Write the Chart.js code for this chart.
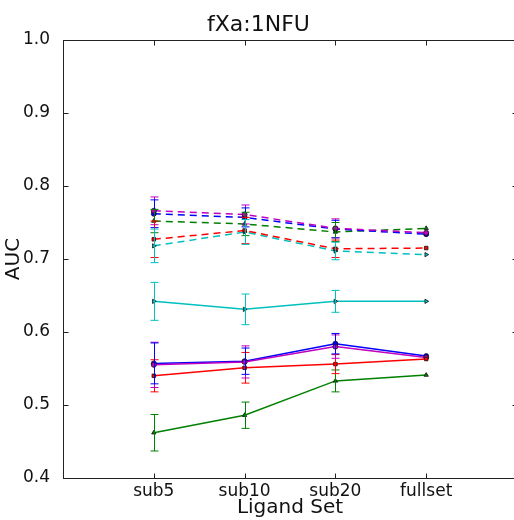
<!DOCTYPE html>
<html>
<head>
<meta charset="utf-8">
<script src="https://cdn.jsdelivr.net/npm/chart.js@4.4.0/dist/chart.umd.min.js"></script>
<style>
  html, body { margin: 0; padding: 0; overflow: hidden; background: #fff; }
  #wrap { width: 580px; height: 520px; }
</style>
</head>
<body>
<div id="wrap"><canvas id="auc-chart" width="580" height="520"></canvas></div>
<script>
const categories = ['sub5', 'sub10', 'sub20', 'fullset'];
const yTickValues = [0.4, 0.5, 0.6, 0.7, 0.8, 0.9, 1.0];

// dashed runs (AUC, +/- error)
const magentaDash = [0.766, 0.761, 0.742, 0.736];
const magentaDashErr = [0.019, 0.013, 0.013, 0];
const blueDash = [0.762, 0.757, 0.741, 0.734];
const blueDashErr = [0.019, 0.013, 0.012, 0];
const greenDash = [0.752, 0.748, 0.737, 0.742];
const greenDashErr = [0.016, 0.016, 0.013, 0];
const redDash = [0.727, 0.739, 0.714, 0.715];
const redDashErr = [0.025, 0.018, 0.012, 0];
const cyanDash = [0.718, 0.737, 0.711, 0.706];
const cyanDashErr = [0.023, 0.017, 0.012, 0];

// solid runs
const cyanSolid = [0.642, 0.631, 0.642, 0.642];
const cyanSolidErr = [0.026, 0.021, 0.015, 0];
const blueSolid = [0.557, 0.560, 0.584, 0.567];
const blueSolidErr = [0.028, 0.018, 0.014, 0];
const magentaSolid = [0.555, 0.559, 0.580, 0.565];
const magentaSolidErr = [0.031, 0.022, 0.016, 0];
const redSolid = [0.540, 0.551, 0.556, 0.563];
const redSolidErr = [0.022, 0.021, 0.013, 0];
const greenSolid = [0.462, 0.486, 0.533, 0.541];
const greenSolidErr = [0.025, 0.018, 0.015, 0];

const FONT = "'DejaVu Sans', sans-serif";

function makeSet(label, values, errors, color, dashed, pointStyle, rotation) {
    return {
        label: label,
        data: values.map((v, i) => ({ x: i, y: v })),
        errors: errors,
        borderColor: color,
        backgroundColor: color,
        borderWidth: 1.5,
        borderDash: dashed ? [7, 5] : [],
        pointStyle: pointStyle,
        pointRotation: rotation || 0,
        pointRadius: 2.5,
        pointBackgroundColor: color,
        pointBorderColor: '#111',
        pointBorderWidth: 0.8,
        tension: 0
    };
}

const datasets = [
    makeSet('m dashed', magentaDash, magentaDashErr, '#bf00bf', true, 'circle'),
    makeSet('b dashed', blueDash, blueDashErr, '#0000ff', true, 'circle'),
    makeSet('g dashed', greenDash, greenDashErr, '#008000', true, 'triangle'),
    makeSet('r dashed', redDash, redDashErr, '#ff0000', true, 'rect'),
    makeSet('c dashed', cyanDash, cyanDashErr, '#00bfbf', true, 'triangle', 90),
    makeSet('c solid', cyanSolid, cyanSolidErr, '#00bfbf', false, 'triangle', 90),
    makeSet('g solid', greenSolid, greenSolidErr, '#008000', false, 'triangle'),
    makeSet('r solid', redSolid, redSolidErr, '#ff0000', false, 'rect'),
    makeSet('m solid', magentaSolid, magentaSolidErr, '#bf00bf', false, 'circle'),
    makeSet('b solid', blueSolid, blueSolidErr, '#0000ff', false, 'circle')
];

// error bars, frame and inward ticks like the original plot
const framePlugin = {
    id: 'frame',
    afterDatasetsDraw(chart) {
        const { ctx, chartArea: a, scales: { x, y } } = chart;
        chart.data.datasets.forEach((ds, i) => {
            ctx.save();
            ctx.strokeStyle = ds.borderColor;
            ctx.lineWidth = 1;
            ctx.setLineDash([]);
            ds.errors.forEach((e, j) => {
                if (!e) return;
                const px = Math.round(x.getPixelForValue(j)) + 0.5;
                const top = y.getPixelForValue(ds.data[j].y + e);
                const bot = y.getPixelForValue(ds.data[j].y - e);
                ctx.beginPath();
                ctx.moveTo(px, top); ctx.lineTo(px, bot);
                ctx.moveTo(px - 4, top); ctx.lineTo(px + 4, top);
                ctx.moveTo(px - 4, bot); ctx.lineTo(px + 4, bot);
                ctx.stroke();
            });
            ctx.restore();
        });

        ctx.save();
        ctx.strokeStyle = '#222';
        ctx.lineWidth = 1;
        const l = Math.round(a.left) + 0.5, r = Math.round(a.right) + 0.5;
        const t = Math.round(a.top) + 0.5, b = Math.round(a.bottom) + 0.5;
        ctx.strokeRect(l, t, r - l, b - t);
        ctx.beginPath();
        x.ticks.forEach(tk => {
            const px = Math.round(x.getPixelForValue(tk.value)) + 0.5;
            ctx.moveTo(px, t); ctx.lineTo(px, t + 5);
            ctx.moveTo(px, b); ctx.lineTo(px, b - 5);
        });
        y.ticks.forEach(tk => {
            const py = Math.round(y.getPixelForValue(tk.value)) + 0.5;
            ctx.moveTo(l, py); ctx.lineTo(l + 5, py);
            ctx.moveTo(r, py); ctx.lineTo(r - 5, py);
        });
        ctx.stroke();
        ctx.restore();
    }
};

const ctx = document.getElementById('auc-chart').getContext('2d');
new Chart(ctx, {
    type: 'line',
    data: { datasets: datasets },
    plugins: [framePlugin],
    options: {
        responsive: false,
        animation: false,
        devicePixelRatio: 1,
        layout: { padding: { left: 0, right: 63, top: 0, bottom: 0 } },
        plugins: {
            legend: { display: false },
            tooltip: { enabled: false },
            title: {
                display: true,
                text: 'fXa:1NFU',
                color: '#111',
                font: { family: FONT, size: 22, weight: 'normal' },
                padding: { top: 12, bottom: 1.6 }
            }
        },
        scales: {
            x: {
                type: 'linear',
                min: -1,
                max: 4,
                grid: { display: false, drawTicks: false },
                border: { display: false },
                afterBuildTicks: scale => { scale.ticks = categories.map((c, i) => ({ value: i })); },
                afterFit: scale => { scale.height = 42; },
                ticks: {
                    padding: 3,
                    color: '#111',
                    font: { family: FONT, size: 17 },
                    callback: v => categories[v]
                },
                title: {
                    display: true,
                    text: 'Ligand Set',
                    color: '#111',
                    font: { family: FONT, size: 20 },
                    padding: { top: 0, bottom: 0 }
                }
            },
            y: {
                min: 0.4,
                max: 1.0,
                grid: { display: false, drawTicks: false },
                border: { display: false },
                afterBuildTicks: scale => { scale.ticks = yTickValues.map(v => ({ value: v })); },
                afterFit: scale => { scale.width = 63; },
                ticks: {
                    padding: 13,
                    color: '#111',
                    font: { family: FONT, size: 17 },
                    callback: v => v.toFixed(1)
                },
                title: {
                    display: true,
                    text: 'AUC',
                    color: '#111',
                    font: { family: FONT, size: 20 },
                    padding: { top: 2, bottom: 0 }
                }
            }
        }
    }
});
</script>
</body>
</html>
